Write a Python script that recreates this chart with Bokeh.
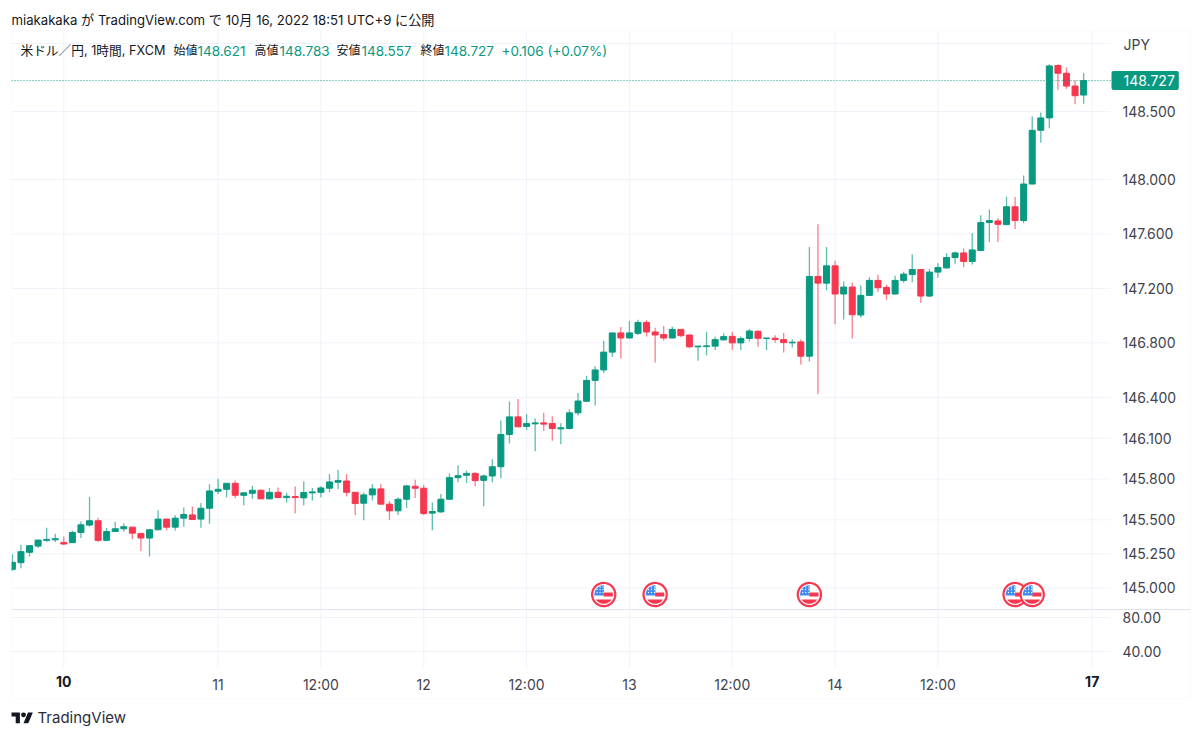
import math
import numpy as np
from bokeh.plotting import figure
from bokeh.models import (Range1d, LinearAxis, FixedTicker, NumeralTickFormatter,
                          Label, BoxAnnotation, PolyAnnotation)
from bokeh.embed import file_html
from bokeh.resources import INLINE

opens = [145.136,145.185,145.261,145.307,145.349,145.353,145.334,145.332,145.407,145.461,145.493,145.349,145.414,145.434,145.446,145.400,145.366,145.427,145.505,145.446,145.512,145.536,145.505,145.585,145.710,145.724,145.768,145.680,145.695,145.717,145.654,145.702,145.663,145.671,
         145.661,145.698,145.702,145.732,145.776,145.785,145.702,145.622,145.683,145.727,145.615,145.566,145.651,145.746,145.732,145.549,145.558,145.651,145.810,145.827,145.841,145.790,145.822,145.890,146.127,146.256,146.186,146.205,146.212,146.207,146.168,146.171,146.286,
         146.371,146.524,146.601,146.732,146.873,146.836,146.870,146.950,146.880,146.861,146.836,146.899,146.858,146.771,146.773,146.776,146.822,146.848,146.800,146.832,146.885,146.832,146.834,146.824,146.800,
         146.807,146.702,147.288,147.239,147.366,147.159,147.210,147.005,147.149,147.259,147.207,147.159,147.259,147.302,147.339,147.144,147.320,147.351,147.427,147.461,147.398,
         147.479,147.684,147.696,147.669,147.800,147.699,147.967,148.362,148.453,148.838,148.781,148.687,148.621]
highs = [145.246,145.317,145.312,145.356,145.441,145.397,145.378,145.422,145.488,145.668,145.515,145.439,145.485,145.475,145.449,145.402,145.434,145.571,145.507,145.534,145.590,145.597,145.624,145.761,145.802,145.771,145.788,145.702,145.749,145.724,145.734,145.737,145.698,145.744,
         145.783,145.734,145.746,145.837,145.866,145.837,145.705,145.700,145.761,145.763,145.637,145.666,145.756,145.795,145.756,145.627,145.690,145.841,145.900,145.861,145.849,145.832,145.944,146.229,146.369,146.388,146.276,146.244,146.286,146.261,146.210,146.312,146.432,
         146.558,146.628,146.815,146.873,146.916,146.960,146.970,146.967,146.912,146.924,146.919,146.902,146.861,146.778,146.882,146.846,146.868,146.882,146.848,146.902,146.892,146.836,146.856,146.873,146.824,
         146.824,147.505,147.671,147.505,147.403,147.251,147.244,147.224,147.283,147.300,147.227,147.293,147.322,147.451,147.342,147.344,147.385,147.459,147.471,147.493,147.605,
         147.738,147.780,147.718,147.874,147.871,148.029,148.463,148.493,148.848,148.848,148.823,148.727,148.783]
lows = [145.124,145.144,145.231,145.292,145.336,145.336,145.314,145.329,145.366,145.451,145.336,145.344,145.410,145.414,145.358,145.271,145.231,145.424,145.422,145.422,145.449,145.500,145.441,145.471,145.690,145.666,145.658,145.605,145.654,145.651,145.651,145.661,145.627,145.549,
        145.607,145.641,145.666,145.702,145.727,145.671,145.536,145.497,145.641,145.612,145.500,145.536,145.588,145.661,145.536,145.424,145.551,145.649,145.776,145.771,145.746,145.600,145.776,145.807,146.061,146.181,146.161,146.003,146.154,146.081,146.056,146.164,146.266,
        146.366,146.339,146.579,146.696,146.684,146.832,146.858,146.846,146.655,146.817,146.832,146.844,146.761,146.669,146.708,146.747,146.817,146.747,146.747,146.810,146.771,146.747,146.800,146.730,146.766,
        146.641,146.663,146.424,147.185,146.936,146.971,146.832,146.985,147.144,147.176,147.117,147.156,147.241,147.246,147.093,147.137,147.278,147.344,147.381,147.356,147.376,
        147.474,147.541,147.541,147.664,147.637,147.679,147.965,148.271,148.377,148.660,148.665,148.554,148.557]
closes = [145.188,145.266,145.310,145.351,145.356,145.361,145.322,145.407,145.463,145.493,145.349,145.414,145.434,145.449,145.402,145.366,145.427,145.505,145.446,145.512,145.539,145.502,145.585,145.712,145.724,145.768,145.680,145.698,145.717,145.654,145.702,145.663,145.673,145.663,
          145.700,145.705,145.734,145.778,145.788,145.702,145.619,145.683,145.727,145.615,145.566,145.651,145.749,145.732,145.546,145.561,145.651,145.810,145.824,145.841,145.788,145.822,145.890,146.127,146.256,146.183,146.207,146.212,146.203,146.171,146.176,146.286,146.373,
          146.524,146.601,146.732,146.873,146.836,146.873,146.950,146.880,146.858,146.836,146.899,146.853,146.771,146.776,146.778,146.824,146.846,146.800,146.832,146.887,146.834,146.836,146.824,146.802,146.805,
          146.702,147.288,147.239,147.366,147.159,147.210,147.007,147.149,147.259,147.205,147.159,147.259,147.305,147.339,147.144,147.320,147.354,147.427,147.461,147.398,147.483,
          147.684,147.699,147.671,147.800,147.699,147.967,148.362,148.453,148.835,148.781,148.687,148.616,148.727]
first_bar = -6

price_ticks = [145.0, 145.25, 145.5, 145.8, 146.1, 146.4, 146.8, 147.2, 147.6, 148.0, 148.5]
top_gridline = 149.0
pane_ticks = [40, 80]
time_ticks = [18, 30, 42, 54, 66, 78, 90, 102]
time_labels = ["11", "12:00", "12", "12:00", "13", "12:00", "14", "12:00"]
bold_ticks = [0, 120]
bold_labels = ["10", "17"]
event_bars = [63, 69, 87, 111, 113]
event_price = 144.951

TEAL = "#089981"
RED = "#f7374f"
GRID = "#f0f3fa"
TXT = "#131722"
AXT = "#3f434d"
FONT = "Inter, Noto Sans CJK JP, sans-serif"

# The frame fills the canvas so that nothing outside the plot area is clipped.
PX_PER_BAR = 8.57
PX_PER_YEN = 136.1
W, H = 1192, 729
def bar_at(px): return (px - 63.3) / PX_PER_BAR
def price_at(py): return 148.5 - (py - 111) / PX_PER_YEN
def pane_at(py): return 80 - (py - 617) / 0.85

p = figure(width=W, height=H, x_range=Range1d(bar_at(0), bar_at(W)), y_range=Range1d(price_at(H), price_at(0)),
           output_backend="svg", toolbar_location=None, x_axis_location=None, y_axis_location=None,
           min_border=0, min_border_left=0, min_border_right=0, min_border_top=0, min_border_bottom=0)
p.grid.visible = False
p.outline_line_color = None
p.background_fill_color = "white"
p.border_fill_color = "white"
p.extra_y_ranges = {"pane": Range1d(pane_at(H), pane_at(0))}

LEFT, RIGHT, TOP, BOTTOM, SEP = bar_at(11), bar_at(1110), price_at(30), price_at(667), price_at(609)

# grids
gy = price_ticks + [top_gridline]
p.segment([LEFT] * len(gy), gy, [RIGHT] * len(gy), gy, line_color=GRID, line_width=1)
gp = pane_ticks
p.segment([LEFT] * len(gp), gp, [RIGHT] * len(gp), gp, line_color=GRID, line_width=1, y_range_name="pane")
gx = time_ticks + bold_ticks
p.segment(gx, [TOP] * len(gx), gx, [BOTTOM] * len(gx), line_color=GRID, line_width=1)
p.segment([LEFT], [SEP], [bar_at(1190)], [SEP], line_color="#e0e3eb", line_width=1.2)

# axes
def quiet(ax, standoff):
    ax.axis_line_color = None
    ax.major_tick_line_color = None
    ax.minor_tick_line_color = None
    ax.major_label_standoff = standoff
    ax.major_label_text_font = FONT
    ax.major_label_text_font_size = "14px"
    ax.major_label_text_color = AXT
    return ax

ya = quiet(LinearAxis(fixed_location=RIGHT, ticker=FixedTicker(ticks=price_ticks),
                      formatter=NumeralTickFormatter(format="0.000")), 6)
p.add_layout(ya, "right")
pa = quiet(LinearAxis(y_range_name="pane", fixed_location=RIGHT, ticker=FixedTicker(ticks=pane_ticks),
                      formatter=NumeralTickFormatter(format="0.00")), 6)
p.add_layout(pa, "right")
xa = quiet(LinearAxis(fixed_location=BOTTOM, ticker=FixedTicker(ticks=time_ticks),
                      major_label_overrides=dict(zip(time_ticks, time_labels))), 2)
p.add_layout(xa, "below")
xb = quiet(LinearAxis(fixed_location=BOTTOM, ticker=FixedTicker(ticks=bold_ticks),
                      major_label_overrides=dict(zip(bold_ticks, bold_labels))), 2)
xb.major_label_text_font_style = "bold"
xb.major_label_text_color = TXT
p.add_layout(xb, "below")

# candles
o = np.array(opens); c = np.array(closes); h = np.array(highs); l = np.array(lows)
idx = np.arange(first_bar, first_bar + len(o))
cols = [TEAL if a >= b else RED for a, b in zip(c, o)]
p.segment(idx, h, idx, l, line_color=cols, line_width=1.3, line_alpha=0.65)
p.vbar(x=idx, top=np.maximum(o, c), bottom=np.minimum(o, c), width=0.70,
       fill_color=cols, line_color=cols, line_width=1)
# left edge of the plot cuts the first bar
p.quad(left=[bar_at(0)], right=[LEFT - 0.02], top=[TOP], bottom=[BOTTOM], fill_color="white", line_color=None)

# last-price line
p.segment([LEFT], [closes[-1]], [RIGHT], [closes[-1]], line_color=TEAL, line_width=1, line_dash="1 2")

# event flags
PXX = 1 / PX_PER_BAR
PXY = 1 / PX_PER_YEN
def arc(cx, cy, r, a0, a1, n=24):
    ts = np.linspace(math.radians(a0), math.radians(a1), n)
    return cx + r * np.cos(ts) * PXX, cy + r * np.sin(ts) * PXY
for b in event_bars:
    xs, ys = arc(b, event_price, 11.6, 0, 360, 48)
    p.patch(xs, ys, fill_color="white", line_color=RED, line_width=2.2)
    # stripes
    p.quad(left=b, right=b + 9.1 * PXX, top=event_price + 2 * PXY, bottom=event_price - 2 * PXY,
           fill_color=RED, line_color=None)
    a = math.degrees(math.asin(5 / 9.3))
    xs, ys = arc(b, event_price, 9.3, 180 + a, 360 - a)
    p.patch(xs, ys, fill_color=RED, line_color=None)
    # canton
    xs, ys = arc(b, event_price, 9.3, 90, 186)
    p.patch(np.r_[xs, b + 0.3 * PXX, b + 0.3 * PXX], np.r_[ys, event_price - 1 * PXY, event_price + 9.3 * PXY],
            fill_color="#3f8cf0", line_color=None)
    dx = np.array([-6, -3, 0, -6, -3, 0, -3, 0]) * PXX + b - 0.6 * PXX
    dy = np.array([2, 2, 2, 5, 5, 5, 7.5, 7.5]) * PXY + event_price
    p.scatter(dx, dy, size=1.3, fill_color="white", line_color=None)

# header / footer texts
def txt(x, y, s, color=TXT, size="13px"):
    p.add_layout(Label(x=x, y=y, x_units="canvas", y_units="canvas", text=s,
                       text_color=color, text_font=FONT, text_font_size=size,
                       text_baseline="middle", text_align="left"))
txt(11, 19, "miakakaka が TradingView.com で 10月 16, 2022 18:51 UTC+9 に公開", size="13.15px")
txt(20, 50, "米ドル／円, 1時間, FXCM", size="12.7px")
for x, s in [(173, "始値"), (254, "高値"), (336, "安値"), (420, "終値")]:
    txt(x, 50, s, TXT, "12px")
for x, s in [(197, "148.621"), (279, "148.783"), (361, "148.557"), (444, "148.727"), (501, "+0.106 (+0.07%)")]:
    txt(x, 50, s, TEAL, "13.5px")
txt(37, 717, "TradingView", "#2a2e39", "15px")
txt(1123, 44, "JPY", AXT, "14px")

# last-price tag
p.add_layout(Label(x=1111, x_units="canvas", y=closes[-1], y_units="data", text=f"{closes[-1]:.3f}",
                   text_color="white", text_font=FONT, text_font_size="14px", text_baseline="middle",
                   background_fill_color=TEAL, border_radius=2, padding=(12, 4, 4, 4)))

# outer border
p.add_layout(BoxAnnotation(left=11, right=1190, top=30, bottom=698, left_units="canvas", right_units="canvas",
                           top_units="canvas", bottom_units="canvas", fill_alpha=0, line_color=GRID, line_width=1.2))

# logo
def logo(points):
    xs = [11 + 0.6 * a for a, b in points]
    ys = [709.5 + 0.6 * b for a, b in points]
    p.add_layout(PolyAnnotation(xs=xs, ys=ys, xs_units="canvas", ys_units="canvas",
                                fill_color=TXT, fill_alpha=1, line_color=None))
logo([(14, 22), (7, 22), (7, 11), (0, 11), (0, 4), (14, 4)])
logo([(28, 22), (20, 22), (27.5, 4), (35.5, 4)])
logo([(20 + 4 * math.cos(t / 12 * 2 * math.pi), 8 + 4 * math.sin(t / 12 * 2 * math.pi)) for t in range(12)])

open("out.html", "w").write(file_html(p, INLINE))
